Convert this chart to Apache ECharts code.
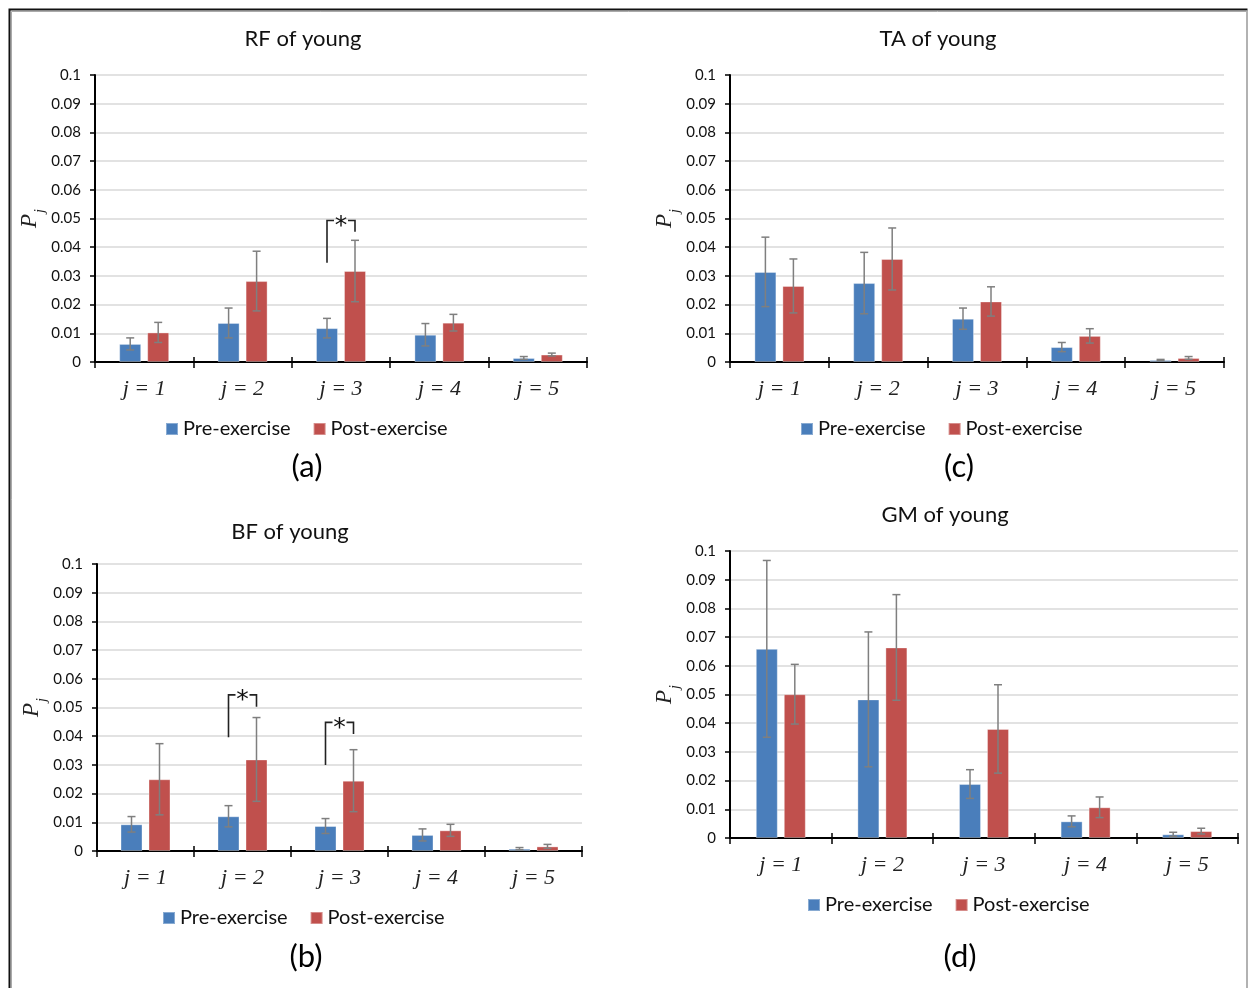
<!DOCTYPE html>
<html>
<head>
<meta charset="utf-8">
<script src="https://cdn.jsdelivr.net/npm/echarts@6/dist/echarts.min.js"></script>
<style>
html,body{margin:0;padding:0;background:#fff;}
#chart{width:1248px;height:988px;}
</style>
</head>
<body>
<div id="chart"></div>
<script>
// ---- data ----
const categories = ['j = 1', 'j = 2', 'j = 3', 'j = 4', 'j = 5'];
const seriesNames = ['Pre-exercise', 'Post-exercise'];
const panelTitles = ['RF of young', 'TA of young', 'BF of young', 'GM of young'];
const panelLetters = ['(a)', '(c)', '(b)', '(d)'];

const rfPre = [0.0063, 0.0136, 0.0118, 0.0095, 0.0014];
const rfPreErr = [0.0021, 0.0052, 0.0034, 0.0039, 0.0005];
const rfPost = [0.0103, 0.0282, 0.0317, 0.0137, 0.0026];
const rfPostErr = [0.0035, 0.0104, 0.0107, 0.0029, 0.0005];

const taPre = [0.0314, 0.0275, 0.0151, 0.0052, 0.0007];
const taPreErr = [0.0121, 0.0107, 0.0037, 0.0016, 0.0002];
const taPost = [0.0265, 0.0359, 0.0211, 0.0091, 0.0014];
const taPostErr = [0.0094, 0.0108, 0.0051, 0.0025, 0.0005];

const bfPre = [0.0093, 0.0121, 0.0087, 0.0056, 0.0008];
const bfPreErr = [0.0027, 0.0037, 0.0026, 0.0021, 0.0004];
const bfPost = [0.0250, 0.0319, 0.0245, 0.0072, 0.0016];
const bfPostErr = [0.0124, 0.0146, 0.0108, 0.0021, 0.0007];

const gmPre = [0.0659, 0.0483, 0.0188, 0.0058, 0.0013];
const gmPreErr = [0.0308, 0.0235, 0.0050, 0.0019, 0.0007];
const gmPost = [0.0501, 0.0664, 0.0380, 0.0107, 0.0024];
const gmPostErr = [0.0104, 0.0184, 0.0154, 0.0036, 0.0010];

// significance brackets: [category index, left foot, top, right foot]
const rfSig = [[2, 0.0346, 0.0493, 0.0454]];
const taSig = [];
const bfSig = [[1, 0.0396, 0.0544, 0.0503], [2, 0.0300, 0.0448, 0.0408]];
const gmSig = [];

const yMin = 0, yMax = 0.1, yInterval = 0.01;

// ---- layout / style ----
const panels = [
  {pre: rfPre, preErr: rfPreErr, post: rfPost, postErr: rfPostErr, sig: rfSig,
   grid: {left: 95, top: 75, width: 492, height: 287}, title: [303, 39], legend: [165, 429], letter: [307, 467]},
  {pre: taPre, preErr: taPreErr, post: taPost, postErr: taPostErr, sig: taSig,
   grid: {left: 730, top: 75, width: 494, height: 287}, title: [938, 39], legend: [800, 429], letter: [959, 467]},
  {pre: bfPre, preErr: bfPreErr, post: bfPost, postErr: bfPostErr, sig: bfSig,
   grid: {left: 97, top: 564, width: 485, height: 287}, title: [290, 532], legend: [162, 918], letter: [306, 957]},
  {pre: gmPre, preErr: gmPreErr, post: gmPost, postErr: gmPostErr, sig: gmSig,
   grid: {left: 730, top: 551, width: 508, height: 287}, title: [945, 515], legend: [807, 905], letter: [960, 957]}
];

const BLUE = '#4a7ebb', RED = '#c0504d';
const BAR_W = 22, BAR_GAP_PX = 6;
const OFF = (BAR_W + BAR_GAP_PX) / 2;
const SANS = 'Lato, "Open Sans", sans-serif';
const TXT = '#111';
const LEG_FONT = 20;

const chart = echarts.init(document.getElementById('chart'), null, {renderer: 'canvas'});

const grids = [], xAxes = [], yAxes = [], series = [], legends = [], graphics = [];

function errRender(offset) {
  return function (params, api) {
    const ci = api.value(0), v = api.value(1), e = api.value(2);
    const c = api.coord([ci, v]);
    const hi = api.coord([ci, v + e]);
    const lo = api.coord([ci, Math.max(0, v - e)]);
    const x = c[0] + offset;
    const st = {stroke: '#7f7f7f', lineWidth: 1.5};
    return {
      type: 'group',
      children: [
        {type: 'line', shape: {x1: x, y1: hi[1], x2: x, y2: lo[1]}, style: st},
        {type: 'line', shape: {x1: x - 4, y1: hi[1], x2: x + 4, y2: hi[1]}, style: st},
        {type: 'line', shape: {x1: x - 4, y1: lo[1], x2: x + 4, y2: lo[1]}, style: st}
      ]
    };
  };
}

function sigRender(params, api) {
  const ci = api.value(0);
  const yl = api.coord([ci, api.value(1)])[1];
  const yt = api.coord([ci, api.value(2)])[1];
  const yr = api.coord([ci, api.value(3)])[1];
  const cx = api.coord([ci, 0])[0];
  const xl = cx - OFF, xr = cx + OFF;
  const xm = (xl + xr) / 2;
  const st = {stroke: '#222', lineWidth: 1.6, fill: null};
  return {
    type: 'group',
    children: [
      {type: 'polyline', shape: {points: [[xl, yl], [xl, yt], [xm - 7, yt]]}, style: st},
      {type: 'polyline', shape: {points: [[xm + 7, yt], [xr, yt], [xr, yr]]}, style: st},
      {type: 'text', x: xm, y: yt + 6, style: {text: '*', fill: '#111', font: '25px "DejaVu Sans", sans-serif', textAlign: 'center', textVerticalAlign: 'middle'}}
    ]
  };
}

panels.forEach((p, i) => {
  grids.push(Object.assign({containLabel: false}, p.grid));
  xAxes.push({
    gridIndex: i, type: 'category', data: categories, position: 'bottom',
    axisLine: {show: true, lineStyle: {color: '#000', width: 2}},
    axisTick: {show: true, length: 6, interval: 0, lineStyle: {color: '#000', width: 1.5}},
    axisLabel: {show: true, margin: 16, interval: 0, color: '#222', fontFamily: '"Liberation Serif", serif', fontStyle: 'italic', fontSize: 22},
    splitLine: {show: false}
  });
  yAxes.push({
    gridIndex: i, type: 'value', min: yMin, max: yMax, interval: yInterval,
    axisLine: {show: true, lineStyle: {color: '#000', width: 2}},
    axisTick: {show: true, length: 5, lineStyle: {color: '#000', width: 1.5}},
    axisLabel: {margin: 14, color: TXT, fontFamily: SANS, fontSize: 15,
      formatter: v => String(+v.toFixed(2))},
    splitLine: {show: true, lineStyle: {color: '#d9d9d9', width: 1.5}},
    name: '{p|P}{j|j}', nameLocation: 'middle', nameGap: 54, nameRotate: 90,
    nameTextStyle: {
      rich: {
        p: {fontFamily: '"Liberation Serif", serif', fontStyle: 'italic', fontSize: 23, color: '#222', verticalAlign: 'bottom', lineHeight: 26},
        j: {fontFamily: '"Liberation Serif", serif', fontStyle: 'italic', fontSize: 14, color: '#222', verticalAlign: 'bottom', lineHeight: 26, padding: [0, 0, -6, 1]}
      }
    }
  });
  series.push({
    name: seriesNames[0], type: 'bar', xAxisIndex: i, yAxisIndex: i, data: p.pre,
    barWidth: BAR_W, barGap: (BAR_GAP_PX / BAR_W * 100) + '%',
    itemStyle: {color: BLUE, borderColor: 'rgba(255,255,255,0.35)', borderWidth: 1}, z: 2
  });
  series.push({
    name: seriesNames[1], type: 'bar', xAxisIndex: i, yAxisIndex: i, data: p.post,
    barWidth: BAR_W, barGap: (BAR_GAP_PX / BAR_W * 100) + '%',
    itemStyle: {color: RED, borderColor: 'rgba(255,255,255,0.35)', borderWidth: 1}, z: 2
  });
  series.push({
    type: 'custom', xAxisIndex: i, yAxisIndex: i, renderItem: errRender(-OFF), z: 5,
    encode: {x: 0, y: 1}, silent: true,
    data: p.pre.map((v, k) => [k, v, p.preErr[k]])
  });
  series.push({
    type: 'custom', xAxisIndex: i, yAxisIndex: i, renderItem: errRender(OFF), z: 5,
    encode: {x: 0, y: 1}, silent: true,
    data: p.post.map((v, k) => [k, v, p.postErr[k]])
  });
  if (p.sig.length) {
    series.push({
      type: 'custom', xAxisIndex: i, yAxisIndex: i, renderItem: sigRender, z: 6,
      encode: {x: 0, y: 2}, silent: true, data: p.sig
    });
  }
  legends.push({
    left: p.legend[0], top: p.legend[1] - 10, orient: 'horizontal', padding: 0,
    data: seriesNames, icon: 'rect', itemWidth: 12, itemHeight: 12, itemGap: 22,
    selectedMode: false,
    textStyle: {fontFamily: SANS, fontSize: LEG_FONT, color: TXT, lineHeight: 20, padding: [0, 0, 0, 0]}
  });
  graphics.push({type: 'text', x: p.title[0], y: p.title[1],
    style: {text: panelTitles[i], font: '22px ' + SANS, fill: TXT, textAlign: 'center', textVerticalAlign: 'middle'}});
  graphics.push({type: 'text', x: p.letter[0], y: p.letter[1],
    style: {text: panelLetters[i], font: '31px ' + SANS, fill: '#000', textAlign: 'center', textVerticalAlign: 'middle'}});
});

// second overlaid x axes for crossing ticks
panels.forEach((p, i) => {
  xAxes.push({
    gridIndex: i, type: 'category', data: categories, position: 'bottom',
    axisLine: {show: false}, axisLabel: {show: false},
    axisTick: {show: true, inside: true, length: 5, interval: 0, lineStyle: {color: '#000', width: 1.5}},
    splitLine: {show: false}
  });
});

// frame
graphics.push({type: 'polyline', shape: {points: [[9.5, 988], [9.5, 9.5], [1247.5, 9.5]]}, style: {stroke: '#111', lineWidth: 2, fill: null}});
graphics.push({type: 'polyline', shape: {points: [[11.5, 988], [11.5, 11.5], [1246, 11.5]]}, style: {stroke: '#aaa', lineWidth: 1, fill: null}});
graphics.push({type: 'line', shape: {x1: 1247, y1: 10, x2: 1247, y2: 988}, style: {stroke: '#999', lineWidth: 1.5}});

chart.setOption({
  animation: false,
  backgroundColor: '#fff',
  grid: grids,
  xAxis: xAxes,
  yAxis: yAxes,
  legend: legends,
  series: series,
  graphic: graphics
});
</script>
</body>
</html>
